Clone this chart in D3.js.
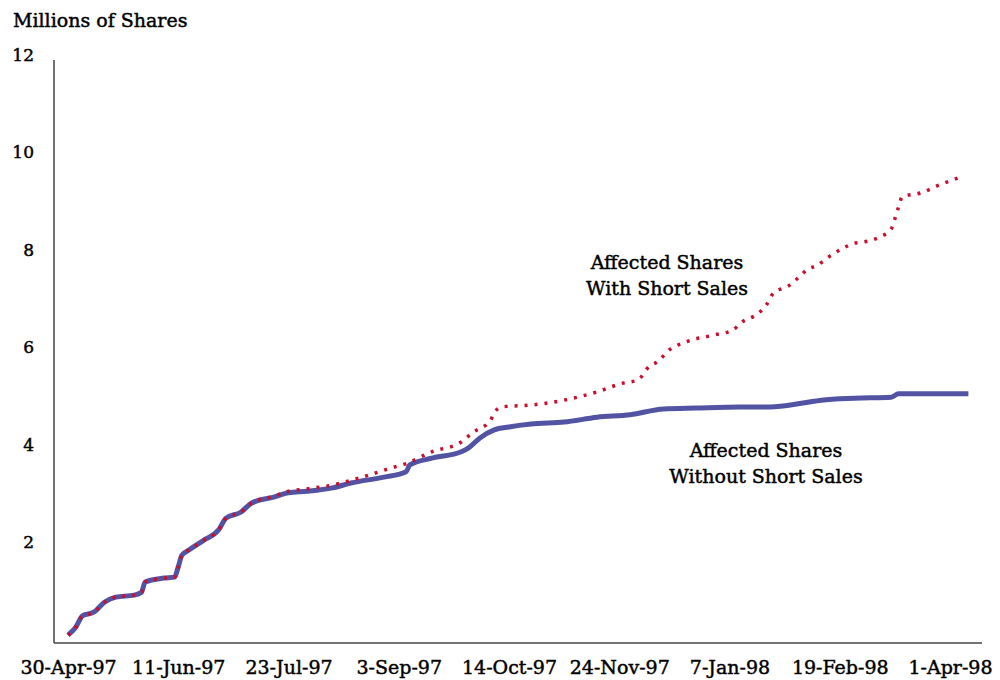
<!DOCTYPE html>
<html>
<head>
<meta charset="utf-8">
<script src="https://cdn.jsdelivr.net/npm/d3@7"></script>
<style>
  body { margin: 0; background: #fff; }
  text { font-family: "DejaVu Serif", serif; fill: #000; stroke: #000; stroke-width: 0.45px; }
</style>
</head>
<body>
<svg id="vis"></svg>
<script>
const width = 1000;
const height = 680;

// trading-day index of each tick label (every 30 trading days)
const tickDays = [0, 30, 60, 90, 120, 150, 180, 210, 240];
const tickLabels = ["30-Apr-97", "11-Jun-97", "23-Jul-97", "3-Sep-97", "14-Oct-97",
                    "24-Nov-97", "7-Jan-98", "19-Feb-98", "1-Apr-98"];
const yTicks = [2, 4, 6, 8, 10, 12];

// Affected shares without short sales (millions)
const noShortDays = [0, 2, 4, 7, 10, 13, 18, 20, 21, 26, 29, 30, 31, 33, 37, 41, 43, 47, 50, 56,
                     60, 65, 72, 77, 86, 92, 93, 99, 107, 109, 112, 116, 120, 126, 135, 144, 153,
                     162, 171, 183, 191, 200, 205, 214, 224, 226, 245];
const noShortVals = [0.10, 0.25, 0.50, 0.57, 0.78, 0.88, 0.92, 0.98, 1.19, 1.27, 1.29, 1.50, 1.74,
                     1.85, 2.05, 2.26, 2.50, 2.62, 2.81, 2.93, 3.02, 3.05, 3.12, 3.22, 3.34, 3.45,
                     3.59, 3.73, 3.86, 3.94, 4.14, 4.31, 4.37, 4.43, 4.47, 4.57, 4.62, 4.74, 4.76,
                     4.78, 4.78, 4.86, 4.92, 4.96, 4.98, 5.05, 5.05];

// Affected shares with short sales (millions)
const withShortDays = [0, 2, 4, 7, 10, 13, 18, 20, 21, 26, 29, 30, 31, 33, 37, 41, 43, 47, 50, 56,
                       60, 65, 72, 80, 88, 92, 99, 107, 110, 115, 116, 118, 126, 135, 144, 151, 155,
                       158, 161, 163, 168, 176, 181, 183, 188, 190, 192, 196, 199, 201, 204, 207,
                       211, 214, 216, 221, 224, 225, 226, 227, 232, 237, 243];
const withShortVals = [0.10, 0.25, 0.50, 0.57, 0.78, 0.88, 0.92, 0.98, 1.19, 1.27, 1.29, 1.50, 1.74,
                       1.85, 2.05, 2.26, 2.50, 2.62, 2.81, 2.95, 3.05, 3.10, 3.18, 3.34, 3.53, 3.62,
                       3.86, 4.06, 4.25, 4.51, 4.66, 4.78, 4.82, 4.92, 5.09, 5.27, 5.33, 5.60, 5.74,
                       5.91, 6.11, 6.26, 6.36, 6.50, 6.71, 6.87, 7.12, 7.26, 7.45, 7.59, 7.69, 7.86,
                       8.04, 8.14, 8.16, 8.27, 8.43, 8.64, 8.88, 9.09, 9.17, 9.33, 9.50];

const svg = d3.select("svg#vis");
svg.attr("width", width);
svg.attr("height", height);

const x = d3.scaleLinear().domain([0, 240]).range([68, 950]);
const y = d3.scaleLinear().domain([0, 12]).range([640, 55]);

const plot = svg.append("g").attr("id", "plot");

// axis lines (left and bottom only)
plot.append("line")
  .attr("x1", 54).attr("x2", 54)
  .attr("y1", 60).attr("y2", 643)
  .style("stroke", "#444").style("stroke-width", 1.5);
plot.append("line")
  .attr("x1", 54).attr("x2", 982)
  .attr("y1", 643).attr("y2", 643)
  .style("stroke", "#444").style("stroke-width", 1.5);

const yAxis = plot.append("g")
  .attr("transform", translate(54, 0))
  .call(d3.axisLeft(y).tickValues(yTicks).tickSize(0).tickPadding(20));
yAxis.select(".domain").remove();
yAxis.selectAll("text").style("font-size", "17px").style("font-family", "DejaVu Serif");

const xAxis = plot.append("g")
  .attr("transform", translate(0, 643))
  .call(d3.axisBottom(x).tickValues(tickDays).tickSize(0).tickPadding(18)
    .tickFormat((d, i) => tickLabels[i]));
xAxis.select(".domain").remove();
xAxis.selectAll("text").style("font-size", "19px").style("font-family", "DejaVu Serif");

const line = d3.line()
  .x(d => x(d[0]))
  .y(d => y(d[1]))
  .curve(d3.curveMonotoneX);

plot.append("path")
  .datum(d3.zip(noShortDays, noShortVals))
  .attr("d", line)
  .style("fill", "none")
  .style("stroke", "#5353a3")
  .style("stroke-width", 5)
  .style("stroke-linejoin", "round");

plot.append("path")
  .datum(d3.zip(withShortDays, withShortVals))
  .attr("d", line)
  .style("fill", "none")
  .style("stroke", "#c8102e")
  .style("stroke-width", 3.5)
  .style("stroke-dasharray", "3,7");

svg.append("text")
  .attr("x", 13).attr("y", 27)
  .style("font-size", "19px")
  .text("Millions of Shares");

const notes = [
  { x: 667, y: 269, t: "Affected Shares" },
  { x: 667, y: 295, t: "With Short Sales" },
  { x: 766, y: 457, t: "Affected Shares" },
  { x: 766, y: 483, t: "Without Short Sales" }
];
svg.selectAll("text.note")
  .data(notes)
  .enter()
  .append("text")
  .attr("class", "note")
  .attr("x", d => d.x)
  .attr("y", d => d.y)
  .attr("text-anchor", "middle")
  .style("font-size", "19px")
  .text(d => d.t);

function translate(x, y) {
  return "translate(" + String(x) + "," + String(y) + ")";
}
</script>
</body>
</html>
